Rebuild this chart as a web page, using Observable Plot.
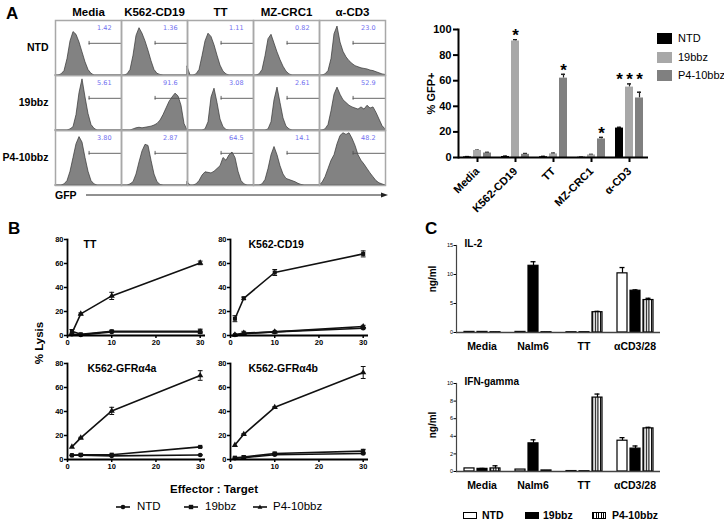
<!DOCTYPE html>
<html><head><meta charset="utf-8">
<script src="https://cdn.jsdelivr.net/npm/d3@7"></script>
<script src="https://cdn.jsdelivr.net/npm/@observablehq/plot@0.6"></script>
<style>
body{margin:0;background:#fff;font-family:"Liberation Sans",Arial,sans-serif;}
#root{position:relative;width:724px;height:522px;overflow:hidden;background:#fff}
.abs{position:absolute}
.lbl{position:absolute;white-space:nowrap;line-height:1;color:#000}
svg{overflow:visible}
</style></head><body>
<svg width="0" height="0" style="position:absolute"><defs>
<pattern id="stripes" width="2.6" height="4" patternUnits="userSpaceOnUse"><rect width="2.6" height="4" fill="#fff"/><rect width="1.1" height="4" fill="#000"/></pattern>
</defs></svg>
<div id="root"></div>
<script>
// ---------------- DATA ----------------
// Panel A: flow histograms
const stimuli = ["Media", "K562-CD19", "TT", "MZ-CRC1", "α-CD3"];
const cars = ["NTD", "19bbz", "P4-10bbz"];
const gfpBins = [0,1,2,3,4,5,6,7,8,9,10,11,12,13,14,15,16,17,18,19,20,21,22];
const histNTD = [
  [0,0,0.02,0.08,0.3,0.62,0.79,0.74,0.6,0.42,0.24,0.1,0.03,0,0,0,0,0,0,0,0,0,0],
  [0,0,0.02,0.1,0.36,0.72,0.86,0.76,0.62,0.45,0.26,0.1,0.03,0.01,0,0,0,0,0,0,0,0,0],
  [0.16,0,0,0.02,0.1,0.35,0.62,0.76,0.7,0.55,0.36,0.18,0.07,0.02,0,0,0,0,0,0,0,0,0],
  [0,0,0.02,0.1,0.35,0.66,0.74,0.58,0.42,0.28,0.16,0.07,0.02,0,0,0,0,0,0,0,0,0,0],
  [0,0,0.02,0.08,0.3,0.75,0.89,0.6,0.43,0.33,0.26,0.21,0.17,0.15,0.13,0.12,0.11,0.09,0.08,0.06,0.04,0.02,0.01]
];
const hist19bbz = [
  [0,0,0,0,0,0.02,0.06,0.28,0.68,0.93,0.6,0.3,0.1,0.03,0,0,0,0,0,0,0,0,0],
  [0,0,0,0,0.02,0.04,0.05,0.04,0.05,0.06,0.07,0.09,0.12,0.18,0.28,0.4,0.52,0.6,0.67,0.62,0.45,0.12,0],
  [0,0,0,0,0,0,0.02,0.15,0.6,0.76,0.5,0.2,0.06,0.01,0,0,0,0,0,0,0,0,0],
  [0,0,0,0,0,0.02,0.15,0.55,0.78,0.5,0.22,0.07,0.02,0,0,0,0,0,0,0,0,0,0],
  [0,0,0.02,0.1,0.35,0.65,0.78,0.65,0.55,0.5,0.45,0.42,0.4,0.38,0.42,0.38,0.45,0.4,0.42,0.32,0.2,0.08,0.02]
];
const histP4 = [
  [0,0,0,0.02,0.08,0.25,0.5,0.75,0.88,0.78,0.5,0.25,0.08,0.02,0,0,0,0,0,0,0,0,0],
  [0,0,0,0.02,0.06,0.2,0.42,0.62,0.74,0.72,0.45,0.2,0.06,0.01,0,0,0,0,0,0,0,0,0],
  [0.06,0,0,0.02,0.08,0.18,0.24,0.23,0.22,0.25,0.3,0.35,0.5,0.45,0.55,0.6,0.5,0.25,0.08,0.02,0,0,0],
  [0,0,0,0.02,0.1,0.3,0.55,0.7,0.55,0.35,0.2,0.12,0.1,0.08,0.06,0.03,0.01,0,0,0,0,0,0],
  [0,0.05,0.15,0.3,0.45,0.55,0.75,0.9,0.95,0.92,0.95,0.85,0.72,0.55,0.45,0.38,0.3,0.22,0.15,0.08,0.04,0.02,0]
];
const gateNTD = ["1.42", "1.36", "1.11", "0.82", "23.0"];
const gate19bbz = ["5.61", "91.6", "3.08", "2.61", "52.9"];
const gateP4 = ["3.80", "2.87", "64.5", "14.1", "48.2"];

// Panel A: % GFP+ bars
const series = ["NTD", "19bbz", "P4-10bbz"];
const gfpNTD = [0.5, 0.8, 0.6, 0.2, 23];
const gfp19bbz = [5.5, 91, 2.8, 2.0, 55];
const gfpP4 = [3.5, 2.5, 62, 14.5, 46.5];
const gfpErrNTD = [0.2, 0.3, 0.3, 0.1, 0.6];
const gfpErr19bbz = [0.2, 1.0, 0.6, 0.4, 2.5];
const gfpErrP4 = [0.5, 0.6, 3.0, 1.2, 4.5];
const gfpSigNTD = [0, 0, 0, 0, 1];
const gfpSig19bbz = [0, 1, 0, 0, 1];
const gfpSigP4 = [0, 0, 1, 1, 1];
const gfpTicks = [0, 20, 40, 60, 80, 100];

// Panel B: % lysis
const etRatios = [1, 3, 10, 30];
const lysisTicksX = [0, 10, 20, 30];
const lysisTicksY = [0, 20, 40, 60, 80];
const ttNTD = [1, 0.5, 3, 3],           ttNTDErr = [0, 0, 0.5, 0.5];
const tt19bbz = [3.5, 1, 3.5, 3.5],     tt19bbzErr = [1.5, 0.3, 0.8, 1.8];
const ttP4 = [2, 18, 33, 60.5],         ttP4Err = [0, 0.8, 3, 1.5];
const cd19NTD = [0.5, 1.5, 3, 6],       cd19NTDErr = [0, 0.5, 0.5, 0.5];
const cd19_19bbz = [14, 31, 52.5, 68],  cd19_19bbzErr = [2.5, 1, 2.5, 2.5];
const cd19P4 = [0.5, 2, 3, 7.5],        cd19P4Err = [0.5, 1.5, 0.5, 1];
const g4aNTD = [3.5, 3.5, 3, 3.8],      g4aNTDErr = [0, 0.3, 0.3, 0.3];
const g4a19bbz = [3.5, 4, 4, 10.5],     g4a19bbzErr = [0.3, 0.8, 0.5, 0.5];
const g4aP4 = [10.5, 18, 40.5, 70],     g4aP4Err = [0, 0.5, 3, 4];
const g4bNTD = [1, 1.5, 4, 5],          g4bNTDErr = [0, 0.3, 0.5, 0.5];
const g4b19bbz = [1.5, 2, 5, 7],        g4b19bbzErr = [0.5, 1, 1, 1.5];
const g4bP4 = [12, 21, 43.5, 72.5],     g4bP4Err = [0, 0.5, 0.5, 5];

// Panel C: cytokines
const cytoCats = ["Media", "Nalm6", "TT", "αCD3/28"];
const il2NTD = [0.1, 0.1, 0.05, 10.2],   il2NTDErr = [0, 0, 0, 1.0];
const il2_19bbz = [0.1, 11.5, 0.05, 7.2], il2_19bbzErr = [0, 0.7, 0, 0.15];
const il2P4 = [0.05, 0.05, 3.5, 5.6],    il2P4Err = [0, 0, 0.15, 0.3];
const il2Ticks = [0, 5, 10, 15];
const ifnNTD = [0.35, 0.22, 0.05, 3.5],  ifnNTDErr = [0, 0, 0, 0.35];
const ifn19bbz = [0.3, 3.2, 0.03, 2.6],  ifn19bbzErr = [0.05, 0.4, 0, 0.3];
const ifnP4 = [0.35, 0.12, 8.4, 4.9],    ifnP4Err = [0.3, 0, 0.4, 0.12];
const ifnTicks = [0, 2, 4, 6, 8, 10];

// ---------------- HELPERS ----------------
const FONT = '"Liberation Sans", Arial, Helvetica, sans-serif';
const root = document.getElementById("root");
function put(node, left, top) {
  const d = document.createElement("div");
  d.className = "abs"; d.style.left = left + "px"; d.style.top = top + "px";
  d.appendChild(node); root.appendChild(d); return d;
}
function label(text, x, y, o = {}) {
  const d = document.createElement("div");
  d.className = "lbl"; d.textContent = text;
  d.style.left = x + "px"; d.style.top = y + "px";
  d.style.fontSize = (o.size || 11) + "px";
  d.style.fontWeight = o.weight || "bold";
  d.style.transform = o.transform || "translate(0,-50%)";
  root.appendChild(d); return d;
}
const baseStyle = {fontFamily: FONT, background: "transparent", overflow: "visible", color: "#000"};

// ---------------- PANEL A: histogram grid ----------------
const histRows = [];
[histNTD, hist19bbz, histP4].forEach((set, ri) => set.forEach((vals, si) => vals.forEach((v, i) =>
  histRows.push({car: cars[ri], stim: stimuli[si], bin: gfpBins[i], v}))));
const gateRows = [];
[gateNTD, gate19bbz, gateP4].forEach((labs, ri) => labs.forEach((pct, si) =>
  gateRows.push({car: cars[ri], stim: stimuli[si], pct})));
const gateLo = 11.2, gateHi = 22, gateLevel = 0.585;

const gridPlot = Plot.plot({
  width: 390, height: 200,
  marginLeft: 54, marginTop: 19, marginRight: 4, marginBottom: 15,
  style: baseStyle,
  x: {domain: [0, 22], axis: null},
  y: {domain: [0, 1], axis: null},
  fx: {domain: stimuli, padding: 0},
  fy: {domain: cars, padding: 0},
  marks: [
    Plot.areaY(histRows, {x: "bin", y: "v", fx: "stim", fy: "car", fill: "#828282", stroke: "#333", strokeWidth: 0.7}),
    Plot.ruleY(gateRows, {fx: "stim", fy: "car", y: () => gateLevel, x1: () => gateLo, x2: () => gateHi, stroke: "#555", strokeWidth: 0.9}),
    Plot.ruleX(gateRows, {fx: "stim", fy: "car", x: () => gateLo, y1: () => gateLevel - 0.035, y2: () => gateLevel + 0.035, stroke: "#555", strokeWidth: 0.9}),
    Plot.text(gateRows, {fx: "stim", fy: "car", x: () => 18.7, y: () => 0.87, text: "pct", textAnchor: "end", fill: "#6f6ff0", fontSize: 6.5, fontFamily: '"DejaVu Sans", sans-serif'}),
    Plot.frame({stroke: "#a8a8a8", strokeWidth: 1.5}),
    Plot.axisFx({anchor: "top", tickSize: 0, tickPadding: 5, fontSize: 11.5, fontWeight: "bold", label: null}),
    Plot.axisFy({anchor: "left", tickSize: 0, tickPadding: 7, fontSize: 10.5, fontWeight: "bold", label: null})
  ]
});
put(gridPlot, 0, 0);

// ---------------- PANEL A: bar chart ----------------
const gfpRows = [];
[[gfpNTD, gfpErrNTD, gfpSigNTD], [gfp19bbz, gfpErr19bbz, gfpSig19bbz], [gfpP4, gfpErrP4, gfpSigP4]].forEach(([vals, errs, sig], k) =>
  vals.forEach((v, i) => gfpRows.push({cat: stimuli[i], series: series[k], v, e: errs[i], sig: sig[i]})));
// stars sit at the top of the tallest significant error bar within each group
const groupTop = new Map(stimuli.map(c => [c, d3.max(gfpRows.filter(d => d.cat === c && d.sig), d => d.v + d.e)]));
const gfpColors = ["#000000", "#a8a8a8", "#808080"];

const gfpPlot = Plot.plot({
  width: 344, height: 215,
  marginLeft: 77, marginRight: 76, marginTop: 29, marginBottom: 58,
  style: baseStyle,
  fx: {domain: stimuli, padding: 0},
  x: {domain: series, paddingInner: 0.23, paddingOuter: 0.35, axis: null},
  y: {domain: [0, 100]},
  color: {domain: series, range: gfpColors},
  marks: [
    Plot.ruleX(gfpRows, {fx: "cat", x: "series", y1: "v", y2: d => d.v + d.e, stroke: "#222", strokeWidth: 1.2}),
    Plot.tickY(gfpRows, {fx: "cat", x: "series", y: d => d.v + d.e, stroke: "#222", strokeWidth: 1.5, insetLeft: 2, insetRight: 2}),
    Plot.barY(gfpRows, {fx: "cat", x: "series", y: "v", fill: "series"}),
    Plot.text(gfpRows.filter(d => d.sig), {fx: "cat", x: "series", y: d => groupTop.get(d.cat), text: () => "*", dy: -4, fontSize: 17, fontWeight: "bold"}),
    Plot.ruleY([0], {strokeWidth: 2}),
    Plot.frame({anchor: "left", facetAnchor: "left", strokeWidth: 2}),
    Plot.axisY({ticks: gfpTicks, tickSize: 5, tickPadding: 2, fontSize: 11, fontWeight: "bold", strokeWidth: 2,
      label: "% GFP+", labelAnchor: "center", labelOffset: 31, labelArrow: "none"}),
    Plot.axisFx({anchor: "bottom", tickRotate: -45, tickSize: 5, tickPadding: 7, fontSize: 11, fontWeight: "bold", strokeWidth: 2, label: null})
  ]
});
put(gfpPlot, 380, 0);

// legend A
series.forEach((s, k) => {
  const sw = document.createElement("div");
  sw.style.cssText = `position:absolute;left:657px;top:${[38, 57, 75][k] - 5.5}px;width:15px;height:11px;background:${gfpColors[k]}`;
  root.appendChild(sw);
  label(s, 678, [38, 57, 75][k], {size: 11, weight: "normal"});
});

// ---------------- PANEL B: lysis ----------------
const capSymbol = {draw(ctx, size) { const r = Math.sqrt(size / Math.PI); ctx.moveTo(-r, 0); ctx.lineTo(r, 0); }};
function lysisPlot(title, sets, dxTitle) {
  const rows = [];
  sets.forEach(([vals, errs], k) => vals.forEach((v, i) => rows.push({r: etRatios[i], v, e: errs[i], series: series[k]})));
  const er = rows.filter(d => d.e > 0);
  return Plot.plot({
    width: 215, height: 130,
    marginLeft: 67, marginRight: 10, marginTop: 14, marginBottom: 20,
    style: baseStyle,
    x: {domain: [0, 31.2]},
    y: {domain: [0, 80]},
    symbol: {domain: series, range: ["circle", "square", "triangle"]},
    marks: [
      Plot.line(rows, {x: "r", y: "v", z: "series", stroke: "#111", strokeWidth: 1.6}),
      Plot.ruleX(er, {x: "r", y1: d => d.v - d.e, y2: d => d.v + d.e, stroke: "#111", strokeWidth: 1}),
      Plot.dot(er, {x: "r", y: d => d.v + d.e, symbol: capSymbol, r: 2.4, stroke: "#111", strokeWidth: 1}),
      Plot.dot(er, {x: "r", y: d => d.v - d.e, symbol: capSymbol, r: 2.4, stroke: "#111", strokeWidth: 1}),
      Plot.dot(rows, {x: "r", y: "v", symbol: "series", fill: "#111", r: 2.3}),
      Plot.ruleY([0], {strokeWidth: 1.8}),
      Plot.frame({anchor: "left", strokeWidth: 1.8}),
      Plot.axisX({ticks: lysisTicksX, tickSize: 3, tickPadding: 1, fontSize: 7.5, fontWeight: "bold", strokeWidth: 1.5, label: null}),
      Plot.axisY({ticks: lysisTicksY, tickSize: 3, tickPadding: 1, fontSize: 7.5, fontWeight: "bold", strokeWidth: 1.5, label: null}),
      Plot.text([title], {frameAnchor: "top-left", text: d => d, dx: dxTitle, dy: 5, lineAnchor: "middle", textAnchor: "start", fontSize: 10.5, fontWeight: "bold"})
    ]
  });
}
put(lysisPlot("TT", [[ttNTD, ttNTDErr], [tt19bbz, tt19bbzErr], [ttP4, ttP4Err]], 16), 0, 225);
put(lysisPlot("K562-CD19", [[cd19NTD, cd19NTDErr], [cd19_19bbz, cd19_19bbzErr], [cd19P4, cd19P4Err]], 18), 163, 225);
put(lysisPlot("K562-GFRα4a", [[g4aNTD, g4aNTDErr], [g4a19bbz, g4a19bbzErr], [g4aP4, g4aP4Err]], 20), 0, 349);
put(lysisPlot("K562-GFRα4b", [[g4bNTD, g4bNTDErr], [g4b19bbz, g4b19bbzErr], [g4bP4, g4bP4Err]], 18), 163, 349);

label("% Lysis", 40, 343, {size: 11.5, transform: "translate(-50%,-50%) rotate(-90deg)"});
label("Effector : Target", 214, 490, {size: 11.5, transform: "translate(-50%,-50%)"});

// legend B
const symPaths = {
  circle: '<circle cx="7" cy="5" r="2.3" fill="#111"/>',
  square: '<rect x="4.8" y="2.8" width="4.4" height="4.4" fill="#111"/>',
  triangle: '<path d="M7,2.6 L9.4,6.8 L4.6,6.8 Z" fill="#111"/>'
};
[["circle", 116, 137], ["square", 184, 205], ["triangle", 253, 273]].forEach(([sym, x, tx], k) => {
  const d = document.createElement("div");
  d.innerHTML = `<svg width="14" height="10"><line x1="0" y1="5" x2="14" y2="5" stroke="#111" stroke-width="1.6"/>${symPaths[sym]}</svg>`;
  d.style.cssText = `position:absolute;left:${x}px;top:${507 - 5}px;line-height:0`;
  root.appendChild(d);
  label(series[k], tx, 507, {size: 11.5, weight: "normal"});
});

// ---------------- PANEL C: cytokines ----------------
const cytoFills = ["#ffffff", "#000000", "url(#stripes)"];
function cytoPlot(title, sets, yMax, ticks, h) {
  const rows = [];
  sets.forEach(([vals, errs], k) => vals.forEach((v, i) => rows.push({cat: cytoCats[i], series: series[k], v, e: errs[i]})));
  const er = rows.filter(d => d.e > 0);
  return Plot.plot({
    width: 344, height: h,
    marginLeft: 75, marginRight: 64, marginTop: 10, marginBottom: 22,
    style: baseStyle,
    fx: {domain: cytoCats, padding: 0},
    x: {domain: series, paddingInner: 0.26, paddingOuter: 0.53, axis: null},
    y: {domain: [0, yMax]},
    color: {domain: series, range: cytoFills},
    marks: [
      Plot.ruleX(er, {fx: "cat", x: "series", y1: "v", y2: d => d.v + d.e, stroke: "#000", strokeWidth: 1.2}),
      Plot.tickY(er, {fx: "cat", x: "series", y: d => d.v + d.e, stroke: "#000", strokeWidth: 1.3, insetLeft: 2.5, insetRight: 2.5}),
      Plot.barY(rows, {fx: "cat", x: "series", y: "v", fill: "series", stroke: "#000", strokeWidth: 1.2}),
      Plot.ruleY([0], {stroke: "#444", strokeWidth: 1.5}),
      Plot.frame({anchor: "left", facetAnchor: "left", stroke: "#444", strokeWidth: 1.2}),
      Plot.axisY({ticks, tickSize: 2.5, tickPadding: 1, fontSize: 5.5, strokeWidth: 1, label: null}),
      Plot.axisFx({anchor: "bottom", tickSize: 0, tickPadding: 10, fontSize: 10.5, fontWeight: "bold", label: null}),
      Plot.text([title], {frameAnchor: "top-left", facetAnchor: "left", text: d => d, dx: 8, dy: -2, lineAnchor: "middle", textAnchor: "start", fontSize: 10, fontWeight: "bold"})
    ]
  });
}
put(cytoPlot("IL-2", [[il2NTD, il2NTDErr], [il2_19bbz, il2_19bbzErr], [il2P4, il2P4Err]], 15, il2Ticks, 119), 380, 235);
put(cytoPlot("IFN-gamma", [[ifnNTD, ifnNTDErr], [ifn19bbz, ifn19bbzErr], [ifnP4, ifnP4Err]], 10, ifnTicks, 120), 380, 373);
label("ng/ml", 433, 279, {size: 10, transform: "translate(-50%,-50%) rotate(-90deg)"});
label("ng/ml", 433, 425, {size: 10, transform: "translate(-50%,-50%) rotate(-90deg)"});

// legend C
const cytoSw = ["background:#fff;border:1.3px solid #000", "background:#000;border:1.3px solid #000",
  "background:repeating-linear-gradient(90deg,#000 0 1.1px,#fff 1.1px 2.6px);border:1.3px solid #000"];
[[463, 482], [525, 543], [592, 612]].forEach(([x, tx], k) => {
  const sw = document.createElement("div");
  sw.style.cssText = `position:absolute;left:${x}px;top:${515 - 3.5}px;width:12px;height:5px;${cytoSw[k]}`;
  root.appendChild(sw);
  label(series[k], tx, 515, {size: 10.5});
});

// ---------------- panel letters & GFP axis ----------------
label("A", 6, 13, {size: 17});
label("B", 8, 228, {size: 17});
label("C", 425, 228, {size: 17});
label("GFP", 55, 195, {size: 10.5});
const arrow = document.createElement("div");
arrow.innerHTML = '<svg width="302" height="8"><line x1="0" y1="4" x2="296" y2="4" stroke="#222" stroke-width="1"/><path d="M302,4 L295,1.5 L295,6.5 Z" fill="#222"/></svg>';
arrow.style.cssText = "position:absolute;left:86px;top:191px;line-height:0";
root.appendChild(arrow);
</script>
</body></html>
